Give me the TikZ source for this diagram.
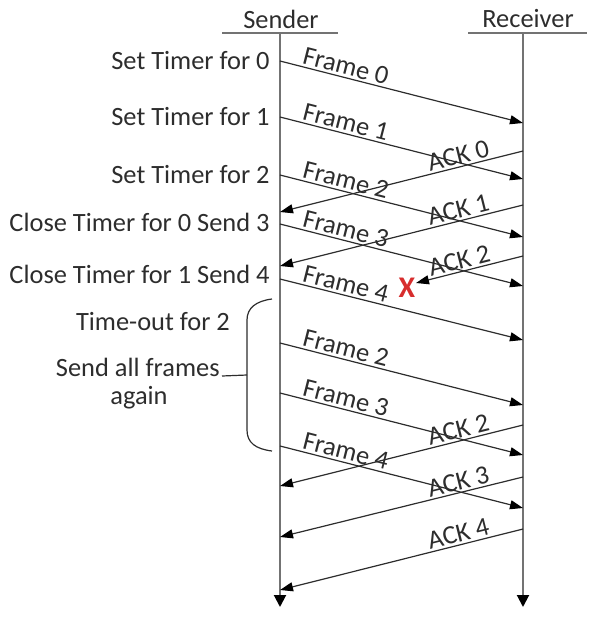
\documentclass[tikz,border=0pt]{standalone}
\usepackage{fontspec}
\setmainfont{Carlito}
\usepackage{tikz}
\usetikzlibrary{arrows.meta, positioning}
\definecolor{inkcol}{RGB}{45,45,45}
\definecolor{lifecol}{RGB}{115,115,115}
\definecolor{lostcol}{RGB}{215,45,45}

\tikzset{
  head/.style={text=inkcol, inner sep=1pt},
  note/.style={text=inkcol, inner sep=1pt},
  bar/.style={draw=lifecol, line width=0.8pt},
  life/.style={draw=lifecol, line width=1pt,
               -{Triangle[length=6pt, width=6pt, color=black]}},
  msg/.style={draw=inkcol, line width=0.6pt,
              -{Triangle[length=6.5pt, width=4.5pt, color=black]}},
  lbl/.style={sloped, above, inner sep=1pt, text=inkcol},
  tie/.style={draw=inkcol, line width=0.6pt},
  lost/.style={text=lostcol, inner sep=0pt, font=\bfseries\fontsize{15}{15}\selectfont}
}

\begin{document}
\begin{tikzpicture}[x=0.5pt, y=-0.5pt, font=\fontsize{13.2}{15}\selectfont]
  \useasboundingbox (0,0) rectangle (605,617);

  \node[head] (sender) at (281,19) {Sender};
  \node[head] (receiver) at (528,19) {Receiver};
  \coordinate (sbl) at (222,33); \coordinate (sbr) at (338,33);
  \coordinate (rbl) at (468,33); \coordinate (rbr) at (587,33);
  \draw[bar] (sbl) -- (sbr);
  \draw[bar] (rbl) -- (rbr);

  \coordinate (stop) at (280,33); \coordinate (sbot) at (280,607);
  \coordinate (rtop) at (523,33); \coordinate (rbot) at (523,607);
  \draw[life] (stop) -- (sbot);
  \draw[life] (rtop) -- (rbot);

  \foreach \i/\y/\t in {0/61/Set Timer for 0, 1/117/Set Timer for 1,
                        2/175/Set Timer for 2, 3/222/Close Timer for 0 Send 3,
                        4/274/Close Timer for 1 Send 4}
    \node[note, anchor=east] (tm\i) at (272,\y) {\t};

  \foreach \i/\ya/\yb/\n in {0/61/123/0, 1/117/179/1, 2/175/237/2, 3/224/286/3,
                             4/279/340/4, 5/343/405/2, 6/393/455/3, 7/446/508/4} {
    \coordinate (fs\i) at (280,\ya);
    \coordinate (fr\i) at (523,\yb);
    \draw[msg] (fs\i) -- node[lbl, pos=.26] (fl\i) {Frame \n} (fr\i);
  }

  \foreach \i/\ya/\yb/\n in {0/151/212/0, 1/205/266/1, 2/425/486/2,
                             3/477/537/3, 4/529/590/4} {
    \coordinate (as\i) at (523,\ya);
    \coordinate (ar\i) at (280,\yb);
    \draw[msg] (as\i) -- node[lbl, pos=.255] (al\i) {ACK \n} (ar\i);
  }

  \node[lost] (cross) at (407,288) {X};
  \coordinate (asx) at (523,256);
  \coordinate (arx) at (416,283);
  \draw[msg] (asx) -- node[lbl, pos=.57] (alx) {ACK 2} (arx);

  \node[note] (tout) at (153,322) {Time-out for 2};
  \node[note, anchor=base east] (sendall) at (222,376) {Send all frames};
  \node[note] (again) at (139,398) {again};

  \coordinate (brtop) at (272,299);
  \coordinate (brmid) at (247,375);
  \coordinate (brbot) at (272,451);
  \draw[tie] (brtop) .. controls (256,301) and (247,308) .. (247,320)
    -- (247,430) .. controls (247,443) and (256,449) .. (brbot);
  \draw[tie] (sendall.base east) -- (brmid);
\end{tikzpicture}
\end{document}
